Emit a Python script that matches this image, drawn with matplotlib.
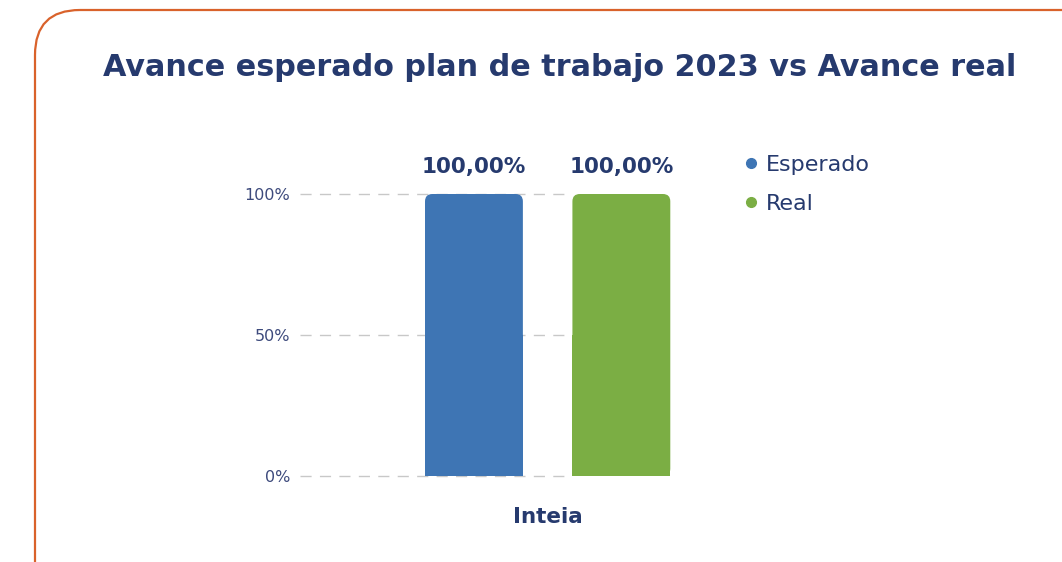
import numpy as np
import matplotlib
matplotlib.use("Agg")
import matplotlib.pyplot as plt
from matplotlib.patches import FancyBboxPatch, Rectangle
from matplotlib.lines import Line2D

NAVY = "#263A6E"
TICK = "#3D4A7C"
C = dict(esp="#3E75B4", real="#7BAE44", grid="#C8C8C8", frame="#D9622B")

title = "Avance esperado plan de trabajo 2023 vs Avance real"
category = "Inteia"
series = ["Esperado", "Real"]
values = [1.0, 1.0]
value_labels = ["100,00%", "100,00%"]
yticks = [0, 0.5, 1.0]
ytick_labels = ["0%", "50%", "100%"]

plt.rcParams.update({"font.family": ["DejaVu Sans"]})
W, H = 1062, 562
fig = plt.figure(figsize=(W / 100, H / 100), dpi=100)

# frame in pixel coordinates
bg = fig.add_axes([0, 0, 1, 1])
bg.set_xlim(0, W); bg.set_ylim(H, 0); bg.axis("off")
bg.add_patch(FancyBboxPatch((35, 10), 1100, 600, boxstyle="round,pad=0,rounding_size=45",
                            fc="none", ec=C["frame"], lw=1.6))
bg.text(559.5, 68, title, ha="center", va="center", fontsize=21.8, fontweight="bold", color=NAVY)

# bars
ax = fig.add_axes([300 / W, 1 - 476 / H, 370 / W, 282 / H])
ax.set_zorder(2); ax.patch.set_alpha(0)
x = np.arange(len(series))
w = 0.664
ax.set_xlim(-1.18, 1.33); ax.set_ylim(0, 1)
for s in ax.spines.values():
    s.set_visible(False)
for t in yticks:
    ax.axhline(t, xmax=(1 - w / 2 - 0.05 + 1.18) / 2.51, color=C["grid"], lw=1,
               dashes=(8, 6), zorder=0, clip_on=False)
ax.set_yticks(yticks); ax.set_yticklabels(ytick_labels, fontsize=11.5, color=TICK)
ax.tick_params(axis="y", length=0, pad=7)
ax.set_xticks([])
bars = ax.bar(x, values, width=w, color="none")
asp = (1 / 282) / (2.51 / 370)
for b, col, lab in zip(bars, [C["esp"], C["real"]], value_labels):
    bx, by, bw, bh = b.get_x(), b.get_y(), b.get_width(), b.get_height()
    ax.add_patch(FancyBboxPatch((bx, by), bw, bh, boxstyle="round,pad=0,rounding_size=0.05",
                                mutation_aspect=asp, fc=col, ec="none", zorder=3, clip_on=False))
    ax.add_patch(Rectangle((bx, by), bw, bh / 2, fc=col, ec="none", zorder=3))
    ax.text(bx + bw / 2, bh + 0.095, lab, ha="center", va="center", fontsize=15.5,
            fontweight="bold", color=NAVY, clip_on=False)
ax.text(x.mean(), -0.145, category, ha="center", va="center", fontsize=15.5,
        fontweight="bold", color=NAVY)

handles = [Line2D([], [], ls="none", marker="o", ms=7, color=c) for c in (C["esp"], C["real"])]
leg = fig.legend(handles, series, loc="upper left", bbox_to_anchor=(731 / W, 1 - 146 / H),
                 frameon=False, fontsize=16, handletextpad=0.15, labelspacing=0.85,
                 handlelength=1.0, borderaxespad=0)
for t in leg.get_texts():
    t.set_color(NAVY)

fig.savefig("out.png", dpi=100)
